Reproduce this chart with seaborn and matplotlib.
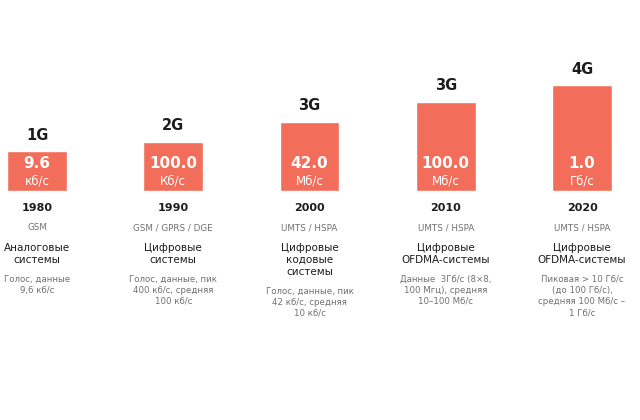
import matplotlib
matplotlib.use("Agg")
import matplotlib.pyplot as plt
import seaborn as sns
import pandas as pd

# ---- data ----
generations = ["1G", "2G", "3G", "3G", "4G"]
years = ["1980", "1990", "2000", "2010", "2020"]
speed_values = [9.6, 100.0, 42.0, 100.0, 1.0]
speed_units = ["кб/с", "Кб/с", "Мб/с", "Мб/с", "Гб/с"]
bar_heights = [40, 49, 69, 89, 106]
technologies = ["GSM", "GSM / GPRS / DGE", "UMTS / HSPA", "UMTS / HSPA", "UMTS / HSPA"]
system_types = [
    "Аналоговые\nсистемы",
    "Цифровые\nсистемы",
    "Цифровые\nкодовые\nсистемы",
    "Цифровые\nOFDMA-системы",
    "Цифровые\nOFDMA-системы",
]
descriptions = [
    "Голос, данные\n9,6 кб/с",
    "Голос, данные, пик\n400 кб/с, средняя\n100 кб/с",
    "Голос, данные, пик\n42 кб/с, средняя\n10 кб/с",
    "Данные  3Гб/с (8×8,\n100 Мгц), средняя\n10–100 Мб/с",
    "Пиковая > 10 Гб/с\n(до 100 Гб/с),\nсредняя 100 Мб/с –\n1 Гб/с",
]

df = pd.DataFrame({"year": years, "height": bar_heights})

sns.set_theme(style="white")
plt.rcParams["font.family"] = ["DejaVu Sans"]

BAR = "#F26E5A"
DARK = "#1c1c1c"
GRAY = "#707070"

fig = plt.figure(figsize=(6.4, 4.2), dpi=100)
ax = fig.add_axes([0, 0, 1, 1])
sns.barplot(data=df, x="year", y="height", order=years, color=BAR,
            saturation=1, width=0.44, ax=ax)

# pixel-based layout: 1 data unit in y == 1 px, baseline at 191 px from top
ax.set_ylim(-(420 - 191), 191)
step = 136.25
ax.set_xlim(-37 / step, (640 - 37) / step)
ax.axis("off")

def py(p):
    return 191 - p

for i in range(len(years)):
    h = bar_heights[i]
    ax.text(i, h + 16, generations[i], ha="center", va="center",
            fontsize=10.5, fontweight="bold", color=DARK)
    ax.text(i, 28, f"{speed_values[i]:.1f}", ha="center", va="center",
            fontsize=11, fontweight="bold", color="white")
    ax.text(i, 10, speed_units[i], ha="center", va="center",
            fontsize=8.5, color="white")
    ax.text(i, py(208), years[i], ha="center", va="center",
            fontsize=8, fontweight="bold", color=DARK)
    ax.text(i, py(228), technologies[i], ha="center", va="center",
            fontsize=6.3, color=GRAY)
    sys_lines = system_types[i].split("\n")
    for k, line in enumerate(sys_lines):
        ax.text(i, py(248 + 12 * k), line, ha="center", va="center",
                fontsize=7.5, color=DARK)
    start = 248 + 12 * (len(sys_lines) - 1) + 19.5
    for k, line in enumerate(descriptions[i].split("\n")):
        ax.text(i, py(start + 11 * k), line, ha="center", va="center",
                fontsize=6.2, color=GRAY)

fig.savefig("out.png", dpi=100)
